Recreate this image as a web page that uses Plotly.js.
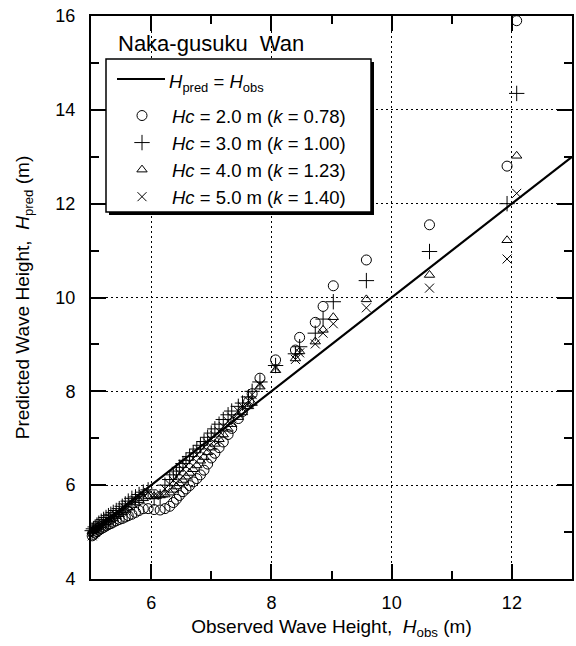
<!DOCTYPE html>
<html>
<head>
<meta charset="utf-8">
<script src="https://cdn.plot.ly/plotly-3.0.1.min.js"></script>
<style>html,body{margin:0;padding:0;background:#fff;}#chart{width:576px;height:646px;}</style>
</head>
<body>
<div id="chart"></div>
<script>
// Observed wave heights (m), sorted descending
const obsHeights = [12.08, 11.92, 10.63, 9.58, 9.03, 8.86, 8.73, 8.47, 8.40, 8.07,
  7.81, 7.68, 7.62, 7.52, 7.45, 7.34, 7.28, 7.20, 7.13, 7.06,
  7.00, 6.94, 6.88, 6.82, 6.76, 6.70, 6.64, 6.58, 6.53, 6.47,
  6.42, 6.37, 6.31, 6.23, 6.15, 6.05, 5.95, 5.87, 5.80, 5.74,
  5.68, 5.62, 5.57, 5.52, 5.47, 5.42, 5.37, 5.33, 5.29, 5.25,
  5.21, 5.17, 5.13, 5.10, 5.07, 5.04, 5.02];
// Predicted wave heights (m) for each Hc
const predHc2 = [15.90, 12.80, 11.55, 10.80, 10.25, 9.81, 9.47, 9.15, 8.88, 8.67,
  8.28, 7.95, 7.78, 7.57, 7.42, 7.21, 7.08, 6.92, 6.80, 6.68,
  6.58, 6.45, 6.32, 6.22, 6.14, 6.07, 5.99, 5.92, 5.86, 5.78,
  5.70, 5.63, 5.55, 5.50, 5.47, 5.48, 5.50, 5.50, 5.46, 5.42,
  5.38, 5.35, 5.32, 5.29, 5.27, 5.24, 5.21, 5.18, 5.16, 5.13,
  5.10, 5.07, 5.04, 5.01, 4.98, 4.95, 4.92];
const predHc3 = [14.35, 12.00, 10.98, 10.36, 9.91, 9.54, 9.24, 8.95, 8.80, 8.55,
  8.20, 8.00, 7.88, 7.75, 7.68, 7.58, 7.50, 7.40, 7.30, 7.20,
  7.11, 7.02, 6.93, 6.85, 6.77, 6.69, 6.61, 6.53, 6.46, 6.38,
  6.30, 6.22, 6.12, 6.00, 5.75, 5.72, 5.90, 5.85, 5.80, 5.75,
  5.72, 5.66, 5.60, 5.55, 5.50, 5.46, 5.42, 5.38, 5.35, 5.31,
  5.27, 5.23, 5.19, 5.15, 5.11, 5.07, 5.03];
const predHc4 = [13.02, 11.22, 10.48, 9.96, 9.58, 9.31, 9.06, 8.85, 8.70, 8.45,
  8.10, 7.75, 7.68, 7.55, 7.45, 7.30, 7.20, 7.08, 6.98, 6.88,
  6.80, 6.70, 6.60, 6.52, 6.42, 6.34, 6.26, 6.18, 6.11, 6.04,
  5.97, 5.90, 5.84, 5.80, 5.78, 5.76, 5.76, 5.72, 5.68, 5.63,
  5.58, 5.52, 5.47, 5.42, 5.38, 5.34, 5.30, 5.27, 5.24, 5.21,
  5.18, 5.15, 5.12, 5.10, 5.07, 5.04, 5.02];
const predHc5 = [12.22, 10.82, 10.20, 9.78, 9.44, 9.24, 9.01, 8.82, 8.68, 8.50,
  8.15, 7.93, 7.80, 7.68, 7.58, 7.45, 7.36, 7.25, 7.15, 7.06,
  6.98, 6.90, 6.81, 6.73, 6.65, 6.57, 6.49, 6.41, 6.34, 6.26,
  6.18, 6.10, 6.02, 5.92, 5.82, 5.78, 5.85, 5.80, 5.74, 5.68,
  5.63, 5.57, 5.51, 5.46, 5.41, 5.36, 5.32, 5.28, 5.24, 5.20,
  5.16, 5.12, 5.08, 5.04, 5.00, 4.96, 4.92];
// Reference line Hpred = Hobs
const lineX = [5, 13];
const lineY = [5, 13];
const lineName = '<i>H</i><sub>pred</sub> = <i>H</i><sub>obs</sub>';
const seriesNames = [
  '<i>Hc</i> = 2.0 m (<i>k</i> = 0.78)',
  '<i>Hc</i> = 3.0 m (<i>k</i> = 1.00)',
  '<i>Hc</i> = 4.0 m (<i>k</i> = 1.23)',
  '<i>Hc</i> = 5.0 m (<i>k</i> = 1.40)'
];
const seriesSymbols = ['circle-open', 'cross-thin-open', 'triangle-up-open', 'x-thin-open'];
const seriesSizes = [10, 11, 9, 9];
const xTickVals = [6, 8, 10, 12];
const yTickVals = [4, 6, 8, 10, 12, 14, 16];

const FONT = 'Liberation Sans, Arial, sans-serif';
const preds = [predHc2, predHc3, predHc4, predHc5];

const traces = [{
  x: lineX, y: lineY, mode: 'lines', type: 'scatter', name: lineName, showlegend: false,
  line: {color: '#000', width: 2.2}, hoverinfo: 'skip'
}];
preds.forEach((p, i) => {
  traces.push({
    x: obsHeights, y: p, mode: 'markers', type: 'scatter', name: seriesNames[i],
    marker: {symbol: seriesSymbols[i], size: seriesSizes[i], color: '#000', line: {color: '#000', width: 1}},
    cliponaxis: false
  });
});

const pxX = px => (px - 91) / 481;
const pxY = py => (579 - py) / 563;

const axisCommon = {
  showline: true, linecolor: '#000', linewidth: 2, mirror: 'allticks',
  ticks: 'inside', ticklen: 15, tickwidth: 2, tickcolor: '#000',
  showgrid: true, gridcolor: '#000', gridwidth: 1, griddash: '2px,3px',
  zeroline: false, tickfont: {family: FONT, size: 18, color: '#000'},
  minor: {dtick: 1, ticks: 'inside', ticklen: 8, tickwidth: 2, tickcolor: '#000', showgrid: false}
};

const layout = {
  width: 576, height: 646,
  margin: {l: 91, r: 4, t: 16, b: 67},
  paper_bgcolor: '#fff', plot_bgcolor: '#fff',
  font: {family: FONT, color: '#000'},
  showlegend: true,
  xaxis: Object.assign({}, axisCommon, {
    range: [5, 13], tickmode: 'array', tickvals: xTickVals, ticktext: xTickVals.map(String),
    ticklabelstandoff: 6,
    title: {text: 'Observed Wave Height,&nbsp; <i>H</i><sub>obs</sub> (m)', font: {family: FONT, size: 19}, standoff: 8}
  }),
  yaxis: Object.assign({}, axisCommon, {
    range: [4, 16], tickmode: 'array', tickvals: yTickVals, ticktext: yTickVals.map(String),
    ticklabelstandoff: 10,
    title: {text: 'Predicted Wave Height,&nbsp; <i>H</i><sub>pred</sub> (m)', font: {family: FONT, size: 19}, standoff: 21}
  }),
  legend: {
    x: pxX(112), y: pxY(97), xanchor: 'left', yanchor: 'top',
    bgcolor: 'rgba(0,0,0,0)', borderwidth: 0,
    font: {family: FONT, size: 18.5, color: '#000'},
    itemwidth: 50, tracegroupgap: 0
  },
  shapes: [
    {type: 'rect', xref: 'paper', yref: 'paper', layer: 'above',
      x0: pxX(109), x1: pxX(374), y0: pxY(215), y1: pxY(62),
      fillcolor: '#000', line: {width: 0}},
    {type: 'rect', xref: 'paper', yref: 'paper', layer: 'above',
      x0: pxX(106), x1: pxX(371), y0: pxY(212), y1: pxY(59),
      fillcolor: '#fff', line: {color: '#000', width: 1.5}},
    {type: 'line', xref: 'paper', yref: 'paper', layer: 'above',
      x0: pxX(117), x1: pxX(165), y0: pxY(79), y1: pxY(79),
      line: {color: '#000', width: 2.2}}
  ],
  annotations: [{
    xref: 'paper', yref: 'paper', x: pxX(116), y: pxY(43), xanchor: 'left', yanchor: 'middle',
    text: 'Naka-gusuku&nbsp; Wan', showarrow: false,
    font: {family: FONT, size: 22, color: '#000'}
  }, {
    xref: 'paper', yref: 'paper', x: pxX(167), y: pxY(83), xanchor: 'left', yanchor: 'middle',
    text: lineName, showarrow: false,
    font: {family: FONT, size: 18.5, color: '#000'}
  }]
};

Plotly.newPlot('chart', traces, layout, {staticPlot: true, displayModeBar: false});
</script>
</body>
</html>
